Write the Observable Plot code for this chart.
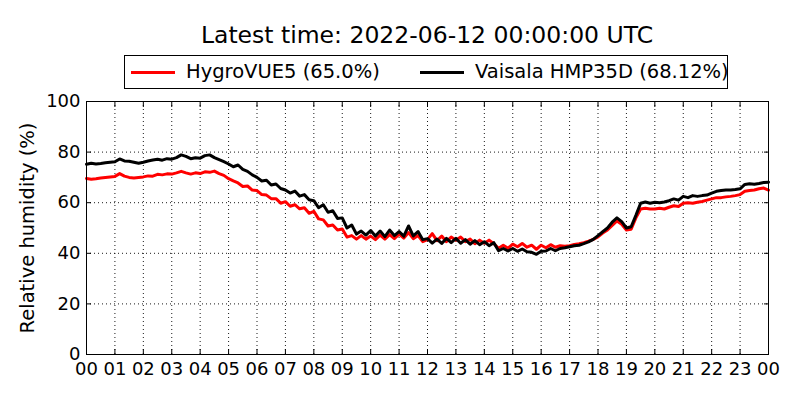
<!DOCTYPE html>
<html>
<head>
<meta charset="utf-8">
<script src="https://cdn.jsdelivr.net/npm/d3@7"></script>
<script src="https://cdn.jsdelivr.net/npm/@observablehq/plot@0.6"></script>
<style>
  body { margin: 0; background: #fff; font-family: "DejaVu Sans", sans-serif; }
  #wrap { width: 800px; height: 400px; position: relative; overflow: hidden; }
  #header { position: relative; width: 800px; height: 80px; z-index: 2; }
  #title { position: absolute; left: 86px; width: 682px; top: 20px; text-align: center; font-size: 23.5px; line-height: 30px; color: #000; }
  #legend { position: absolute; left: 124px; top: 55px; width: 602px; height: 32px; border: 1px solid #000; font-size: 19.5px; background: #fff; }
  .item { position: absolute; top: 0; height: 32px; line-height: 32px; white-space: nowrap; }
  .swatch { position: absolute; top: 16px; width: 44px; height: 0; border-top: 3px solid; margin-top: -1.5px; }
  .lab { position: absolute; left: 55px; top: 0; }
  #chart { position: relative; z-index: 1; }
  svg { display: block; }
</style>
</head>
<body>
<div id="wrap">
  <div id="header">
    <div id="title"></div>
    <div id="legend"></div>
  </div>
  <div id="chart"></div>
</div>
<script>
const titleText = "Latest time: 2022-06-12 00:00:00 UTC";
const seriesNames = ["HygroVUE5", "Vaisala HMP35D"];
const seriesColors = ["#ff0000", "#000000"];
const latestLabels = ["65.0%", "68.12%"];
const yLabel = "Relative humidity (%)";
const hourTicks = d3.range(0, 25);
const humidityTicks = [0, 20, 40, 60, 80, 100];

// 10-minute readings, 00:00 to 24:00
const hygroVUE5 = [
  69.6, 69.3, 69.5, 69.8, 70.0, 70.2,
  70.4, 71.5, 70.5, 70.0, 69.8, 70.0,
  70.2, 70.6, 70.5, 71.2, 71.0, 71.4,
  71.3, 71.8, 72.4, 71.8, 71.3, 71.8,
  71.5, 72.2, 72.0, 72.5, 71.5, 70.8,
  69.5, 68.6, 67.8, 66.4, 66.6, 65.0,
  64.8, 63.2, 63.0, 61.6, 61.6, 59.8,
  60.4, 58.6, 59.2, 57.6, 58.0, 55.8,
  56.6, 53.6, 53.2, 50.8, 51.2, 49.2,
  49.6, 46.4, 47.0, 45.6, 47.0, 45.6,
  46.8, 45.4, 47.2, 45.6, 47.4, 45.8,
  47.6, 46.0, 48.2, 45.8, 47.0, 44.6,
  45.4, 47.8, 45.0, 46.8, 44.6, 46.4,
  45.2, 46.4, 44.6, 45.6, 43.8, 45.2,
  44.0, 45.2, 43.8, 42.0, 43.2, 42.0,
  43.6, 42.6, 43.9, 42.4, 43.2, 41.6,
  43.2, 42.2, 43.4, 42.4, 43.0, 42.8,
  43.0, 43.5, 43.8, 44.2, 44.8, 45.5,
  46.5, 48.0, 49.2, 51.0, 52.8, 51.5,
  49.2, 49.5, 54.0, 57.5, 57.8, 57.5,
  57.5, 57.8, 57.5, 58.2, 58.8, 58.5,
  59.8, 60.0, 59.8, 60.2, 60.5, 61.0,
  61.5, 62.0, 62.0, 62.3, 62.5, 62.8,
  63.2, 64.5, 64.8, 65.0, 65.5, 65.8,
  65.0
];
const vaisalaHMP35D = [
  75.2, 75.6, 75.3, 75.5, 75.8, 76.0,
  76.2, 77.3, 76.5, 76.4, 76.0, 75.6,
  76.0, 76.5, 76.9, 77.2, 76.8, 77.4,
  77.2, 77.8, 78.9, 78.3, 77.4, 77.8,
  77.6, 78.6, 78.9, 77.8, 77.0, 76.2,
  75.3, 74.2, 74.9, 73.2, 72.4, 71.0,
  70.0, 68.6, 68.9, 67.0, 67.4, 65.6,
  65.0, 63.8, 64.6, 62.6, 63.2, 61.2,
  60.8, 58.0, 59.2, 56.2, 56.8, 53.8,
  54.0, 50.0, 51.2, 47.6, 48.8, 47.2,
  49.0, 46.8, 48.8, 46.6, 49.2, 47.0,
  48.6, 46.8, 50.8, 46.9, 48.6, 45.4,
  45.8, 44.0, 45.6, 43.9, 45.9, 44.2,
  45.9, 44.0, 45.4, 43.6, 45.0, 43.4,
  44.6, 43.0, 44.2, 41.0, 41.9, 40.9,
  41.9, 40.8, 41.7, 40.6, 40.4, 39.6,
  40.8, 40.9, 41.9, 41.0, 41.9, 42.2,
  42.6, 43.0, 43.2, 43.8, 44.5, 45.5,
  47.0, 48.5, 50.0, 52.3, 54.0, 52.5,
  50.0, 50.5, 55.0, 59.8, 60.3, 59.8,
  60.2, 60.0, 60.3, 60.8, 61.5, 61.0,
  62.5, 62.0, 62.8, 62.5, 62.8, 63.0,
  63.8, 64.5, 64.8, 65.0, 65.0, 65.2,
  65.5, 67.2, 67.5, 67.3, 67.6, 68.0,
  68.12
];

const hours = hygroVUE5.map((_, i) => i / 6);
const rows = [];
[hygroVUE5, vaisalaHMP35D].forEach((vals, s) => {
  vals.forEach((v, i) => rows.push({hour: hours[i], rh: v, series: seriesNames[s]}));
});

document.getElementById("title").textContent = titleText;
const legend = document.getElementById("legend");
const legendLefts = [6, 295];
seriesNames.forEach((name, i) => {
  const item = document.createElement("div");
  item.className = "item";
  item.style.left = legendLefts[i] + "px";
  const sw = document.createElement("div");
  sw.className = "swatch";
  sw.style.borderTopColor = seriesColors[i];
  const lab = document.createElement("div");
  lab.className = "lab";
  lab.textContent = `${name} (${latestLabels[i]})`;
  item.append(sw, lab);
  legend.append(item);
});

const chart = Plot.plot({
  width: 800,
  height: 320,
  marginTop: 21,
  marginBottom: 46,
  marginLeft: 86,
  marginRight: 32,
  style: {fontFamily: "DejaVu Sans, sans-serif", fontSize: "18px", color: "#000", background: "transparent"},
  x: {domain: [0, 24], ticks: hourTicks},
  y: {domain: [0, 100], ticks: humidityTicks},
  color: {domain: seriesNames, range: seriesColors},
  marks: [
    Plot.gridX(hourTicks, {stroke: "#000", strokeOpacity: 0.9, strokeDasharray: "1,3", strokeWidth: 1}),
    Plot.gridY(humidityTicks, {stroke: "#000", strokeOpacity: 0.9, strokeDasharray: "1,3", strokeWidth: 1}),
    Plot.lineY(rows, {x: "hour", y: "rh", z: "series", stroke: "series", strokeWidth: 3, curve: "linear"}),
    Plot.axisX(hourTicks, {tickSize: -5, tickPadding: 13, fontSize: 18, tickFormat: d => String(d % 24).padStart(2, "0"), label: null}),
    Plot.axisX(hourTicks, {anchor: "top", tickSize: -5, tickFormat: () => "", label: null}),
    Plot.axisY(humidityTicks, {tickSize: -5, tickPadding: 11, fontSize: 18, label: null}),
    Plot.axisY([], {tickSize: 0, fontSize: 19.5, label: yLabel, labelAnchor: "center", labelArrow: "none", labelOffset: 66}),
    Plot.axisY(humidityTicks, {anchor: "right", tickSize: -5, tickFormat: () => "", label: null}),
    Plot.frame({stroke: "#000", strokeWidth: 1})
  ]
});
document.getElementById("chart").append(chart);
</script>
</body>
</html>
